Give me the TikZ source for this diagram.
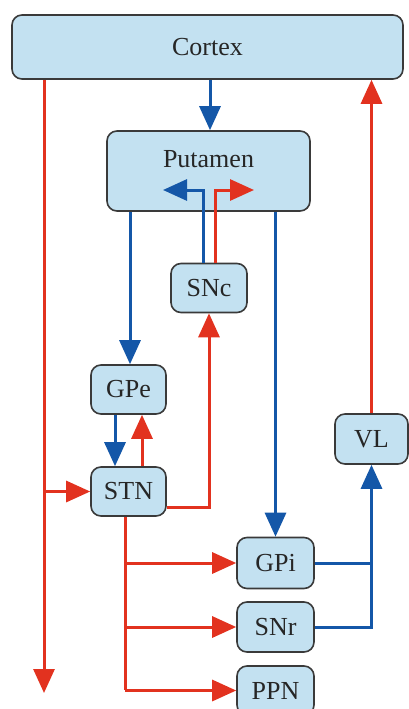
\documentclass[tikz,border=0pt]{standalone}
\usepackage{fontspec}
\setmainfont{Liberation Serif}
\usetikzlibrary{arrows.meta,calc}
\definecolor{bl}{HTML}{1457A8}
\definecolor{rd}{HTML}{E2321F}
\definecolor{bfill}{HTML}{C3E1F1}
\definecolor{bdraw}{HTML}{3A3A3A}
\begin{document}
\begin{tikzpicture}[x=1pt,y=-1pt,
  box/.style={draw=bdraw,line width=1.6pt,fill=bfill,rounded corners=10pt,inner sep=0pt,
    text=black!85,font=\fontsize{26}{30}\selectfont},
  lbl/.style={inner sep=0pt,text=black!85,font=\fontsize{26}{30}\selectfont},
  tip/.style={-{Triangle[length=24pt,width=21pt]}},
  bline/.style={draw=bl,line width=3pt},
  rline/.style={draw=rd,line width=3pt}]
\useasboundingbox (0,0) rectangle (409,709);
\clip (0,0) rectangle (409,709);
\node[box,minimum width=391pt,minimum height=64pt] (cortex) at (207.5,47) {Cortex};
\node[box,minimum width=203pt,minimum height=80pt] (putamen) at (208.5,171) {};
\node[lbl] (putlab) at (208.5,159) {Putamen};
\node[box,minimum width=76pt,minimum height=49pt] (snc) at (209,288) {SNc};
\node[box,minimum width=75pt,minimum height=49pt] (gpe) at (128.5,389.5) {GPe};
\node[box,minimum width=75pt,minimum height=49pt] (stn) at (128.5,491.5) {STN};
\node[box,minimum width=73pt,minimum height=50pt] (vl) at (371.5,439) {VL};
\node[box,minimum width=77pt,minimum height=51pt] (gpi) at (275.5,563) {GPi};
\node[box,minimum width=77pt,minimum height=50pt] (snr) at (275.5,627) {SNr};
\node[box,minimum width=77pt,minimum height=49pt] (ppn) at (275.5,690.5) {PPN};
\coordinate (lend) at (44,693);
\coordinate (bltip) at (163,190);
\coordinate (rdtip) at (254,190);
\coordinate (trunk) at (125,690);
% Cortex -> Putamen
\draw[bline,tip] ($(cortex.south)+(2.5,0)$) -- ($(putamen.north)+(1.5,0)$);
% Cortex descending red
\draw[rline,tip] (lend |- cortex.south) -- (lend);
\draw[rline,tip] (lend |- stn.west) -- (stn.west);
% VL -> Cortex
\draw[rline,tip] (vl.north) -- (vl.north |- cortex.south);
% SNc -> Putamen inner arrows
\draw[bline,tip] ($(snc.north)+(-6,0)$) |- (bltip);
\draw[rline,tip] ($(snc.north)+(6,0)$) |- (rdtip);
% Putamen -> GPe, GPi
\draw[bline,tip] ($(gpe.north |- putamen.south)+(1.5,0)$) -- ($(gpe.north)+(1.5,0)$);
\draw[bline,tip] (gpi.north |- putamen.south) -- (gpi.north);
% GPe <-> STN
\draw[bline,tip] ($(gpe.south)+(-13.5,0)$) -- ($(stn.north)+(-13.5,0)$);
\draw[rline,tip] ($(stn.north)+(13.5,0)$) -- ($(gpe.south)+(13.5,0)$);
% STN -> SNc
\draw[rline,tip] ($(stn.east)+(0,15.5)$) -| (snc.south);
% STN trunk
\draw[rline] (trunk |- stn.south) -- (trunk);
\draw[rline,tip] (trunk |- gpi.west) -- (gpi.west);
\draw[rline,tip] (trunk |- snr.west) -- (snr.west);
\draw[rline,tip] (trunk |- ppn.west) -- (ppn.west);
% GPi/SNr -> VL
\draw[bline] (gpi.east) -- (vl.south |- gpi.east);
\draw[bline,tip] (snr.east) -| (vl.south);
\end{tikzpicture}
\end{document}
